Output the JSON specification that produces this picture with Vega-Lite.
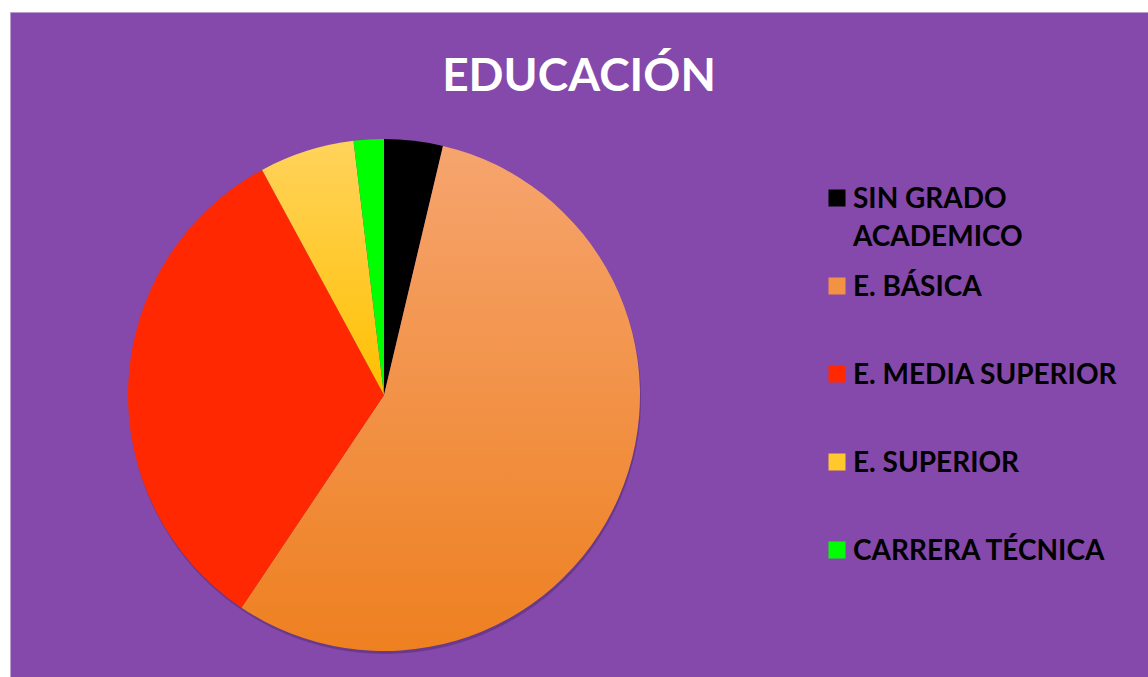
{
  "$schema": "https://vega.github.io/schema/vega-lite/v6.json",
  "autosize": "none",
  "padding": {"left": 10, "top": 12, "right": 0, "bottom": 0},
  "width": 1138,
  "height": 665,
  "background": "white",
  "view": {"fill": "#8548AB", "stroke": "#B9A0CC"},
  "title": {
    "text": "EDUCACIÓN",
    "anchor": "middle",
    "offset": -80,
    "dy": 45,
    "baseline": "alphabetic",
    "fontSize": 46,
    "font": "Lato",
    "fontWeight": "bold",
    "color": "white"
  },
  "data": {
    "values": [
      {"nivel": "SIN GRADO ACADEMICO", "porcentaje": 3.7, "orden": 1},
      {"nivel": "E. BÁSICA", "porcentaje": 55.7, "orden": 2},
      {"nivel": "E. MEDIA SUPERIOR", "porcentaje": 32.7, "orden": 3},
      {"nivel": "E. SUPERIOR", "porcentaje": 6.0, "orden": 4},
      {"nivel": "CARRERA TÉCNICA", "porcentaje": 1.9, "orden": 5}
    ]
  },
  "layer": [
    {
      "mark": {"type": "arc", "outerRadius": 256, "xOffset": -194, "yOffset": 53.5, "fill": "#3B1F52", "opacity": 0.35, "stroke": null},
      "encoding": {
        "theta": {"aggregate": "sum", "field": "porcentaje", "type": "quantitative"}
      }
    },
    {
      "mark": {"type": "arc", "outerRadius": 256, "xOffset": -195, "yOffset": 50.5, "stroke": null},
      "encoding": {
        "theta": {"field": "porcentaje", "type": "quantitative", "stack": true},
        "order": {"field": "orden", "type": "ordinal"},
        "fill": {
          "condition": [
            {"test": "datum.nivel == 'E. BÁSICA'", "value": {"gradient": "linear", "x1": 0, "y1": 0, "x2": 0, "y2": 1, "stops": [{"offset": 0, "color": "#F6A46E"}, {"offset": 1, "color": "#EE8020"}]}},
            {"test": "datum.nivel == 'E. SUPERIOR'", "value": {"gradient": "linear", "x1": 0, "y1": 0, "x2": 0, "y2": 1, "stops": [{"offset": 0, "color": "#FFD35C"}, {"offset": 1, "color": "#FFC000"}]}}
          ],
          "field": "nivel",
          "type": "nominal",
          "sort": ["SIN GRADO ACADEMICO", "E. BÁSICA", "E. MEDIA SUPERIOR", "E. SUPERIOR", "CARRERA TÉCNICA"],
          "scale": {
            "domain": ["SIN GRADO ACADEMICO", "E. BÁSICA", "E. MEDIA SUPERIOR", "E. SUPERIOR", "CARRERA TÉCNICA"],
            "range": ["#000000", "#F39243", "#FF2800", "#FFC92E", "#00FF00"]
          },
          "legend": {
            "title": null,
            "orient": "none",
            "legendX": 813,
            "legendY": 172,
            "padding": 0,
            "symbolType": "square",
            "symbolSize": 289,
            "symbolStrokeWidth": 0,
            "labelFont": "Lato",
            "labelFontSize": 28,
            "labelFontWeight": "bold",
            "labelColor": "black",
            "labelOffset": 2,
            "labelLimit": 400,
            "labelBaseline": "top",
            "gridAlign": "all",
            "rowPadding": 20,
            "labelExpr": "datum.label == 'SIN GRADO ACADEMICO' ? ['SIN GRADO', 'ACADEMICO'] : datum.label"
          }
        }
      }
    }
  ],
  "config": {
    "style": {"guide-label": {"lineHeight": 38, "dy": -12}}
  }
}
